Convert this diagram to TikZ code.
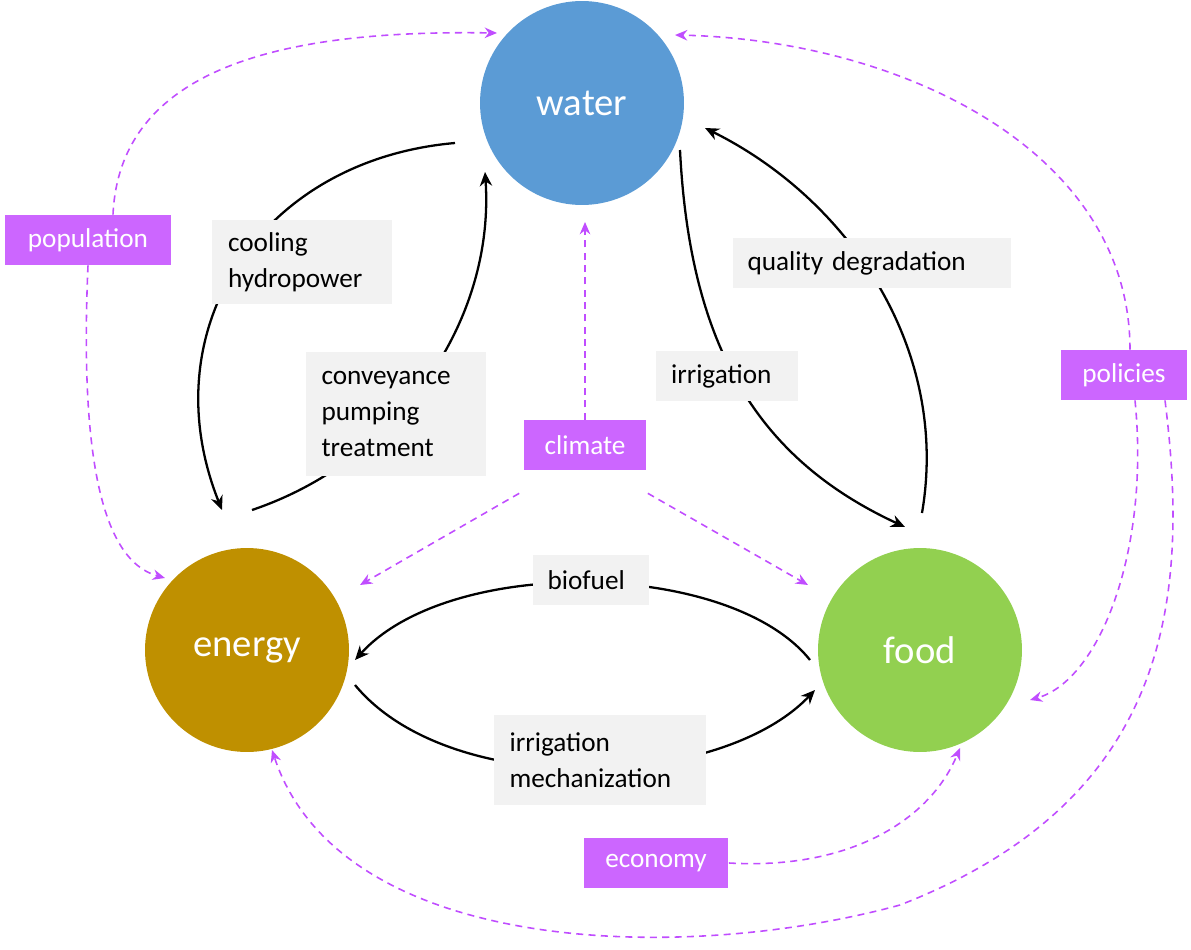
\documentclass[tikz,border=0pt]{standalone}
\usepackage{fontspec}
\setmainfont{Carlito}
\usetikzlibrary{calc,arrows.meta}
\definecolor{cwater}{HTML}{5B9BD5}
\definecolor{cenergy}{HTML}{BF9000}
\definecolor{cfood}{HTML}{92D050}
\definecolor{cpurp}{HTML}{CC66FF}
\definecolor{cdash}{HTML}{C04DFF}
\definecolor{cgray}{HTML}{F2F2F2}
\begin{document}
\begin{tikzpicture}[x=0.02cm,y=-0.02cm,
  hub/.style={circle,minimum size=4.08cm,inner sep=0pt,text=white,font=\fontsize{22}{26}\selectfont},
  lab/.style={fill=cgray,align=left,inner sep=0pt,font=\fontsize{15.5}{20.5}\selectfont},
  drv/.style={fill=cpurp,text=white,inner sep=0pt,font=\fontsize{15.5}{18}\selectfont,minimum height=1cm},
  blk/.style={draw=black,line width=1.3pt,-{Stealth[length=8pt,width=7pt]}},
  dsh/.style={draw=cdash,line width=0.9pt,dash pattern=on 4pt off 3pt,-{Stealth[length=7pt,width=6pt]}}]
\useasboundingbox (0,0) rectangle (1191,950);
\node[hub,fill=cwater] (water) at (582,103) {water};
\node[hub,fill=cenergy] (energy) at (247,650) {energy};
\node[hub,fill=cfood] (food) at (920,650) {food};
% black connectors
\draw[blk] ($(water)+(-127,40)$) .. controls (260,160) and (150,330) .. ($(energy)+(-25,-140)$);
\draw[blk] ($(energy)+(5,-140)$) .. controls (400,460) and (495,320) .. ($(water)+(-97,69)$);
\draw[blk] ($(water)+(98,47)$) .. controls (690,350) and (760,460) .. ($(food)+(-15,-123)$);
\draw[blk] ($(food)+(2,-137)$) .. controls (950,350) and (850,200) .. ($(water)+(123,25)$);
\draw[blk] ($(food)+(-110,10)$) .. controls (730,560) and (450,555) .. ($(energy)+(108,10)$);
\draw[blk] ($(energy)+(108,35)$) .. controls (450,800) and (720,790) .. ($(food)+(-105,40)$);
% labels
\node[lab,minimum width=3.6cm,minimum height=1.7cm,text width=2.96cm] (l1) at (302,262) {cooling\\hydropower};
\node[lab,minimum width=3.62cm,minimum height=2.48cm,text width=2.98cm] (l2) at (396,414) {conveyance\\pumping\\treatment};
\node[lab,minimum width=2.84cm,minimum height=1cm,text width=2.24cm] (l3) at (727,376) {irrigation};
\node[lab,minimum width=5.58cm,minimum height=1cm,text width=4.98cm] (l4) at (872,263) {quality degradation};
\node[lab,minimum width=2.34cm,minimum height=1cm,text width=1.74cm] (l5) at (591,580) {biofuel};
\node[lab,minimum width=4.26cm,minimum height=1.8cm,text width=3.62cm] (l6) at (600,760) {irrigation\\mechanization};
\node[drv,minimum width=3.34cm] (pop) at (88,240) {population};
\node[drv,minimum width=2.46cm] (cli) at (585,445) {climate};
\node[drv,minimum width=2.52cm] (pol) at (1124,375) {policies};
\node[drv,minimum width=2.9cm] (eco) at (656,863) {economy};
% dashed connectors
\draw[dsh] ($(pop.north)+(25,0)$) .. controls (120,60) and (300,30) .. ($(water)+(-85,-70)$);
\draw[dsh] (pop.south) .. controls (80,450) and (100,560) .. ($(energy)+(-82,-72)$);
\draw[dsh] (cli.north) -- ($(water)+(3,119)$);
\draw[dsh] ($(cli.south west)+(-4,23)$) -- ($(energy)+(113,-65)$);
\draw[dsh] ($(cli.south east)+(1,23)$) -- ($(food)+(-112,-65)$);
\draw[dsh] ($(pol.north)+(6,0)$) .. controls (1130,150) and (900,40) .. ($(water)+(93,-68)$);
\draw[dsh] ($(pol.south)+(11,0)$) .. controls (1150,550) and (1100,680) .. ($(food)+(110,50)$);
\draw[dsh] ($(pol.south)+(41,0)$) .. controls (1190,600) and (1170,800) .. (900,905)
   .. controls (680,965) and (340,955) .. ($(energy)+(25,100)$);
\draw[dsh] (eco.east) .. controls (850,870) and (930,820) .. ($(food)+(40,98)$);
\end{tikzpicture}
\end{document}
